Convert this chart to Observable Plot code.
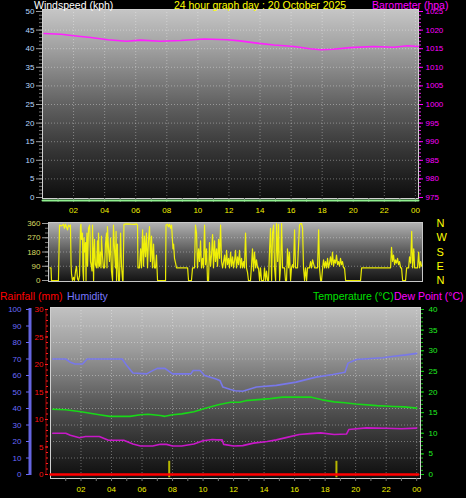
<!DOCTYPE html>
<html><head><meta charset="utf-8">
<script src="https://cdn.jsdelivr.net/npm/d3@7"></script>
<script src="https://cdn.jsdelivr.net/npm/@observablehq/plot@0.6"></script>
<style>
html,body{margin:0;padding:0;background:#000;}
#chart{position:relative;width:466px;height:498px;background:#000;overflow:hidden;font-family:"Liberation Sans",Arial,sans-serif;}
#chart svg{position:absolute;left:0;}
.lbl{position:absolute;font-size:10.5px;white-space:nowrap;line-height:1;}
</style></head><body><div id="chart"></div>
<script>
// ---------- DATA ----------
const hourTicks = [2, 4, 6, 8, 10, 12, 14, 16, 18, 20, 22, 24];
const windTicks = [0, 5, 10, 15, 20, 25, 30, 35, 40, 45, 50];
const baroTicks = [975, 980, 985, 990, 995, 1000, 1005, 1010, 1015, 1020, 1025];
const dirTicks = [0, 90, 180, 270, 360];
const compass = ["N", "E", "S", "W", "N"]; // for 0,90,180,270,360
const humTicks = [0, 10, 20, 30, 40, 50, 60, 70, 80, 90, 100];
const rainTicks = [0, 5, 10, 15, 20, 25, 30];
const tempTicks = [0, 5, 10, 15, 20, 25, 30, 35, 40];

// windspeed (kph): [hour, value]
const windSpeed = [[0, 0], [6, 0], [12, 0], [18, 0], [24.2, 0]];
// barometer (hPa)
const barometer = [[0.1,1019.1],[1.2,1018.9],[2.0,1018.5],[3.1,1018.0],[4.2,1017.4],[5.4,1017.0],[6.3,1017.3],[7.6,1017.0],[8.9,1017.2],[10.4,1017.6],[11.9,1017.4],[12.7,1017.1],[13.8,1016.5],[14.9,1016.0],[16.2,1015.6],[17.2,1015.0],[17.9,1014.7],[18.7,1014.85],[19.8,1015.3],[21.3,1015.6],[22.6,1015.4],[23.5,1015.8],[24.2,1015.6]];
// wind direction (degrees)
const windDir = [[0.03,80],[0.10,80],[0.13,0],[0.58,0],[0.65,350],[0.78,345],[0.91,355],[0.97,330],[1.04,355],[1.17,320],[1.23,350],[1.30,340],[1.36,350],[1.40,100],[1.43,40],[1.49,0],[1.56,20],[1.62,0],[1.69,60],[1.75,90],[1.82,10],[1.88,0],[1.95,30],[2.01,340],[2.04,355],[2.08,260],[2.14,300],[2.17,60],[2.21,0],[2.24,270],[2.27,180],[2.34,240],[2.37,0],[2.40,200],[2.43,300],[2.47,90],[2.53,330],[2.60,350],[2.63,290],[2.66,120],[2.73,80],[2.76,60],[2.79,350],[2.86,0],[2.89,180],[2.92,260],[2.98,100],[3.05,80],[3.11,250],[3.15,80],[3.18,300],[3.24,90],[3.31,180],[3.34,80],[3.37,280],[3.44,150],[3.50,80],[3.57,80],[3.63,230],[3.70,300],[3.73,80],[3.76,340],[3.83,200],[3.89,120],[3.96,270],[4.02,60],[4.09,0],[4.15,350],[4.22,190],[4.28,80],[4.32,310],[4.35,0],[4.41,230],[4.48,0],[4.54,0],[4.61,300],[4.67,100],[4.74,0],[4.77,0],[4.83,355],[5.00,358],[5.26,356],[5.52,355],[5.65,358],[5.71,350],[5.74,80],[5.84,80],[5.91,200],[5.97,80],[6.04,320],[6.10,90],[6.16,280],[6.23,150],[6.29,300],[6.36,80],[6.42,250],[6.49,340],[6.55,120],[6.62,280],[6.68,80],[6.75,230],[6.81,80],[6.88,80],[6.94,160],[7.01,0],[7.20,0],[7.40,0],[7.53,0],[7.56,350],[7.66,355],[7.72,340],[7.79,355],[7.85,330],[7.92,350],[7.98,250],[8.01,200],[8.05,230],[8.11,140],[8.18,110],[8.24,80],[8.50,80],[8.83,80],[8.96,80],[9.02,0],[9.21,0],[9.28,80],[9.41,80],[9.47,350],[9.54,300],[9.60,80],[9.67,200],[9.73,120],[9.80,250],[9.86,80],[9.93,140],[9.99,80],[10.06,350],[10.12,100],[10.19,200],[10.25,0],[10.32,0],[10.38,240],[10.45,90],[10.51,160],[10.58,290],[10.64,80],[10.71,250],[10.77,120],[10.84,200],[10.90,90],[10.97,260],[11.03,140],[11.10,350],[11.16,120],[11.23,80],[11.36,160],[11.42,80],[11.49,190],[11.55,100],[11.62,140],[11.68,80],[11.75,180],[11.81,90],[11.88,150],[11.94,80],[12.01,130],[12.07,190],[12.13,80],[12.20,150],[12.26,100],[12.33,190],[12.39,80],[12.46,140],[12.52,80],[12.59,120],[12.65,80],[12.72,300],[12.78,80],[12.85,50],[12.91,0],[13.04,0],[13.11,100],[13.17,200],[13.24,60],[13.30,180],[13.37,80],[13.43,130],[13.50,80],[13.56,80],[13.63,0],[13.69,80],[13.76,0],[13.89,0],[13.95,80],[14.02,0],[14.08,60],[14.15,0],[14.21,0],[14.28,200],[14.34,330],[14.41,0],[14.47,300],[14.54,350],[14.60,80],[14.67,0],[14.73,360],[14.80,120],[14.86,355],[14.93,0],[14.99,80],[15.06,360],[15.12,80],[15.25,80],[15.31,0],[15.38,0],[15.44,200],[15.51,80],[15.57,180],[15.64,0],[15.70,80],[15.77,100],[15.83,80],[15.90,320],[15.96,80],[16.09,80],[16.22,350],[16.29,360],[16.35,360],[16.42,330],[16.48,80],[16.55,0],[16.61,80],[16.68,0],[16.74,80],[16.87,80],[16.94,120],[17.00,80],[17.07,130],[17.20,80],[17.39,80],[17.46,320],[17.52,80],[17.59,0],[17.65,0],[17.72,80],[17.78,130],[17.85,80],[17.91,120],[17.98,80],[18.04,140],[18.11,80],[18.17,110],[18.23,150],[18.30,100],[18.36,180],[18.43,90],[18.49,130],[18.56,110],[18.62,160],[18.69,100],[18.75,120],[18.82,90],[18.88,140],[18.95,100],[19.01,120],[19.08,80],[19.14,80],[19.21,0],[19.53,0],[19.86,0],[20.18,0],[20.25,80],[20.83,80],[21.48,80],[22.13,80],[22.19,210],[22.26,120],[22.32,160],[22.39,100],[22.45,130],[22.52,110],[22.58,140],[22.65,100],[22.71,120],[22.78,80],[22.84,80],[22.91,0],[23.10,0],[23.17,80],[23.30,80],[23.36,150],[23.43,110],[23.50,310],[23.56,80],[23.63,200],[23.69,80],[23.75,80],[23.88,80],[23.95,180],[24.01,80],[24.08,120],[24.14,90]];
// humidity (%)
const humidity = [[0.15,70],[1.0,70],[1.3,68],[1.6,67],[2.1,67],[2.4,70],[4.7,70],[5.0,66],[5.4,61.5],[6.3,61],[6.6,62.5],[7.0,64.3],[7.5,64.3],[8.0,61],[9.2,61],[9.35,63],[9.8,63],[10.1,60],[10.8,58],[11.1,57],[11.3,53],[11.8,51.5],[12.1,50.8],[12.6,50.5],[13.5,53],[14.8,54],[16.1,56],[17.4,59],[18.5,60.6],[19.3,62],[19.5,67.5],[20.05,69.7],[21.0,70.3],[21.8,70.8],[22.5,71.7],[23.3,72.5],[24.0,73.4]];
// temperature (°C)
const temperature = [[0.15,15.8],[1.0,15.7],[2.0,15.2],[3.2,14.5],[3.9,14.1],[5.2,14.1],[5.9,14.5],[6.4,14.6],[7.2,14.3],[7.5,14.1],[8.0,14.5],[8.6,14.7],[9.4,15.2],[10.1,16.0],[11.0,16.9],[11.8,17.5],[12.4,17.5],[12.8,17.9],[14.4,18.4],[15.2,18.75],[17.1,18.75],[17.8,18.1],[18.6,17.6],[19.3,17.4],[20.0,17.1],[21.4,16.7],[22.5,16.5],[23.2,16.4],[24.0,16.1]];
// dew point (°C)
const dewPoint = [[0.15,10],[1.0,10],[1.3,9.5],[1.9,8.9],[2.3,9.2],[3.2,9.2],[3.8,8.3],[4.8,8.3],[5.4,7.4],[5.9,6.9],[6.7,6.9],[7.2,7.35],[7.6,7.3],[8.0,6.9],[8.6,6.9],[9.4,7.4],[10.0,8.2],[10.6,8.5],[10.9,8.4],[11.25,8.4],[11.35,7.3],[12.0,6.9],[12.6,7.0],[13.3,7.6],[14.2,8.0],[14.8,8.4],[15.5,9.0],[16.3,9.7],[17.0,9.9],[17.7,10.1],[18.6,9.7],[19.4,9.8],[19.55,10.9],[20.7,11.3],[22.0,11.2],[23.0,11.1],[24.0,11.25]];
// rainfall (mm)
const rainfall = [[0, 0], [12, 0], [24.1, 0]];
// sunrise / sunset markers (hour)
const sunEvents = [7.78, 18.74];

// ---------- HELPERS ----------
const fmtHour = h => String(h % 24).padStart(2, "0");
const rows = (arr, key) => arr.map(([h, v]) => ({h, [key]: v}));
function gradientBg(id, stops) {
  return (index, scales, values, dim) => {
    const g = d3.create("svg:g");
    const grad = g.append("defs").append("linearGradient")
      .attr("id", id).attr("x1", 0).attr("y1", 0).attr("x2", 0).attr("y2", 1);
    stops.forEach(([o, c]) => grad.append("stop").attr("offset", o).attr("stop-color", c));
    g.append("rect")
      .attr("x", dim.marginLeft).attr("y", dim.marginTop)
      .attr("width", dim.width - dim.marginLeft - dim.marginRight)
      .attr("height", dim.height - dim.marginTop - dim.marginBottom)
      .attr("fill", `url(#${id})`);
    return g.node();
  };
}
const gridStyle = {stroke: "#ffffff", strokeOpacity: 0.35, strokeDasharray: "1,2"};
const baseStyle = {background: "transparent", fontFamily: "'Liberation Sans', Arial, sans-serif", fontSize: "8px", overflow: "visible"};
const noLabel = {label: null};
const chart = document.getElementById("chart");
function place(svg, top) { svg.style.top = top + "px"; chart.appendChild(svg); }
function label(text, color, left, top, extra = {}) {
  const d = document.createElement("div");
  d.className = "lbl"; d.textContent = text; d.style.color = color;
  d.style.left = left + "px"; d.style.top = top + "px";
  Object.assign(d.style, extra);
  chart.appendChild(d);
}

// ---------- PANEL 1 : windspeed + barometer ----------
const p1 = Plot.plot({
  width: 466, height: 220,
  marginLeft: 42, marginRight: 48, marginTop: 9, marginBottom: 22,
  x: {domain: [0, 24.2], axis: null, label: null},
  y: {domain: [0, 50], insetTop: 2, insetBottom: 1, axis: null, label: null},
  style: baseStyle,
  marks: [
    gradientBg("bg1", [[0, "#c6c6c6"], [0.2, "#a2a2a2"], [0.5, "#626262"], [0.75, "#353535"], [1, "#0e0e0e"]]),
    Plot.gridY(windTicks.slice(1, -1), gridStyle),
    Plot.gridX(hourTicks, gridStyle),
    Plot.frame({stroke: "#d0d0d0"}),
    Plot.axisY(d3.range(0, 51, 1), {...noLabel, anchor: "left", tickSize: 3, tickFormat: () => "", stroke: "#777"}),
    Plot.axisY(windTicks, {...noLabel, anchor: "left", tickSize: 6, tickPadding: 2, tickFormat: d => String(d), stroke: "#999", fill: "#b8d8ff"}),
    Plot.axisY(d3.range(0, 51, 1), {...noLabel, anchor: "right", tickSize: 2, tickFormat: () => "", stroke: "#e020e0"}),
    Plot.axisY(baroTicks.map(b => b - 975), {...noLabel, anchor: "right", tickSize: 4, tickPadding: 3, tickFormat: d => String(d + 975), stroke: "#ff00ff", fill: "#ff00ff"}),
    Plot.axisX(d3.range(1, 25, 1), {...noLabel, anchor: "bottom", tickSize: 4, tickFormat: () => "", stroke: "#666"}),
    Plot.axisX(hourTicks, {...noLabel, anchor: "bottom", tickSize: 0, tickPadding: 9, tickFormat: fmtHour, fill: "#f0f000"}),
    Plot.line(rows(windSpeed, "v"), {x: "h", y: "v", stroke: "#90f090", strokeWidth: 2, dy: 3}),
    Plot.line(rows(barometer, "v"), {x: "h", y: d => d.v - 975, stroke: "#ff20ff", strokeWidth: 1.6})
  ]
});
place(p1, 0);

// ---------- PANEL 2 : wind direction ----------
const p2 = Plot.plot({
  width: 466, height: 80,
  marginLeft: 48, marginRight: 44, marginTop: 12, marginBottom: 9,
  x: {domain: [0, 24.2], insetLeft: 1, axis: null, label: null},
  y: {domain: [0, 360], insetTop: 1, insetBottom: 1, axis: null, label: null},
  style: baseStyle,
  marks: [
    gradientBg("bg2", [[0, "#b4b4b4"], [0.5, "#5a5a5a"], [1, "#141414"]]),
    Plot.gridY([90, 180, 270], gridStyle),
    Plot.frame({stroke: "#c8c8c8"}),
    Plot.axisY(d3.range(0, 361, 30), {...noLabel, anchor: "left", tickSize: 3, tickFormat: () => "", stroke: "#777"}),
    Plot.axisY(dirTicks, {...noLabel, anchor: "left", tickSize: 6, tickPadding: 2, tickFormat: d => String(d), stroke: "#999", fill: "#d8d860"}),
    Plot.axisY(dirTicks, {...noLabel, anchor: "right", tickSize: 0, tickPadding: 14, tickFormat: d => compass[dirTicks.indexOf(d)], fill: "#ffff00", fontSize: 11}),
    Plot.line(rows(windDir, "v"), {x: "h", y: "v", stroke: "#ffff00", strokeWidth: 1.2, strokeOpacity: 0.9})
  ]
});
place(p2, 210);

// ---------- PANEL 3 : rain, humidity, temperature, dew point ----------
const T = 2.5;        // 1 °C = 2.5 units of the % scale (0-40 °C on 0-100)
const R = 100 / 30;   // 1 mm = 3.33 units (0-30 mm on 0-100)
const p3 = Plot.plot({
  width: 466, height: 213,
  marginLeft: 50, marginRight: 46, marginTop: 22, marginBottom: 20,
  x: {domain: [0, 24.25], axis: null, label: null},
  y: {domain: [0, 100], insetTop: 2, insetBottom: 4, axis: null, label: null},
  style: baseStyle,
  marks: [
    gradientBg("bg3", [[0, "#c2c2c2"], [0.25, "#9c9c9c"], [0.55, "#5a5a5a"], [0.8, "#2e2e2e"], [1, "#0e0e0e"]]),
    Plot.gridY(humTicks.slice(1, -1), gridStyle),
    Plot.gridX(hourTicks, gridStyle),
    Plot.frame({stroke: "#d0d0d0"}),
    // humidity axis (far left)
    (index, s, v, dim) => {
      const g = d3.create("svg:line");
      g.attr("x1", dim.marginLeft - 20).attr("x2", dim.marginLeft - 20)
       .attr("y1", s.y(100) - 1).attr("y2", s.y(0) + 1)
       .attr("stroke", "#6464e0").attr("stroke-width", 3);
      return g.node();
    },
    Plot.axisY(humTicks, {...noLabel, anchor: "left", dx: -21, tickSize: 3, tickPadding: 5, tickFormat: d => String(d), stroke: "#6a6aff", fill: "#6a6aff"}),
    // rainfall axis
    (index, s, v, dim) => {
      const g = d3.create("svg:line");
      g.attr("x1", dim.marginLeft - 4).attr("x2", dim.marginLeft - 4)
       .attr("y1", s.y(100)).attr("y2", s.y(0))
       .attr("stroke", "#a00000").attr("stroke-width", 1);
      return g.node();
    },
    Plot.axisY(d3.range(0, 31, 1).map(r => r * R), {...noLabel, anchor: "left", dx: -2, tickSize: 2, tickFormat: () => "", stroke: "#ff2020"}),
    Plot.axisY(rainTicks.map(r => r * R), {...noLabel, anchor: "left", dx: -2, tickSize: 3, tickPadding: 2, tickFormat: d => String(Math.round(d / R)), stroke: "#ff2020", fill: "#ff1010"}),
    // temperature axis (right)
    Plot.axisY(d3.range(0, 41, 1).map(t => t * T), {...noLabel, anchor: "right", tickSize: 2, tickFormat: () => "", stroke: "#10c010"}),
    Plot.axisY(tempTicks.map(t => t * T), {...noLabel, anchor: "right", tickSize: 3, tickPadding: 5, tickFormat: d => String(Math.round(d / T)), stroke: "#10d010", fill: "#20f020"}),
    // hours
    Plot.axisX(d3.range(1, 25, 1), {...noLabel, anchor: "bottom", tickSize: 3, tickFormat: () => "", stroke: "#777"}),
    Plot.axisX(hourTicks, {...noLabel, anchor: "bottom", tickSize: 0, tickPadding: 8, tickFormat: fmtHour, fill: "#f0f000"}),
    // series
    Plot.ruleX(sunEvents, {x: d => d, y1: -2, y2: 8, stroke: "#b8b800", strokeWidth: 2}),
    Plot.line(rows(humidity, "v"), {x: "h", y: "v", stroke: "#7878ea", strokeWidth: 1.6}),
    Plot.line(rows(temperature, "v"), {x: "h", y: d => d.v * T, stroke: "#18d818", strokeWidth: 1.6}),
    Plot.line(rows(dewPoint, "v"), {x: "h", y: d => d.v * T, stroke: "#c818c8", strokeWidth: 1.6}),
    Plot.line(rows(rainfall, "v"), {x: "h", y: d => d.v * R, stroke: "#ff0000", strokeWidth: 2.5})
  ]
});
place(p3, 285);

// ---------- TEXT LABELS ----------
label("Windspeed (kph)", "#ffffff", 34, 0);
label("24 hour graph day : 20 October 2025", "#ffff00", 260, 0, {transform: "translateX(-50%)"});
label("Barometer (hpa)", "#ff00ff", 372, 0);
label("Rainfall (mm)", "#ff0000", 0, 291);
label("Humidity", "#7878ff", 67, 291);
label("Temperature (°C)", "#00e000", 313, 291);
label("Dew Point (°C)", "#ff00ff", 394, 291);
</script></body></html>
